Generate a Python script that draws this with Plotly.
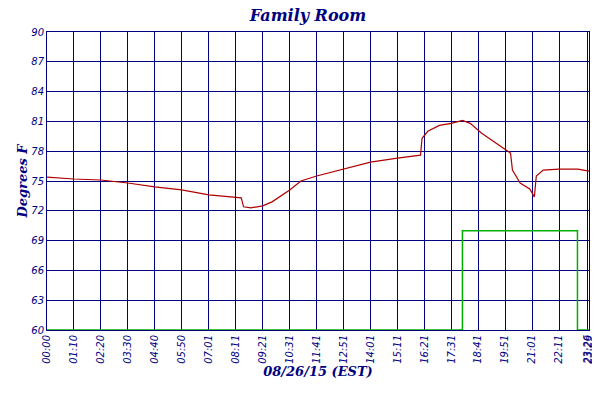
import plotly.graph_objects as go

# minutes since midnight, temperature (F)
temp_min = [0, 70, 140, 210, 280, 350, 421, 491, 505, 511, 530, 561, 585, 631, 660, 701, 771,
            841, 911, 961, 971, 975, 990, 1020, 1051, 1080, 1100, 1130, 1160, 1191, 1205,
            1210, 1230, 1255, 1267, 1272, 1290, 1331, 1380, 1409]
temp_val = [75.4, 75.2, 75.1, 74.8, 74.4, 74.1, 73.6, 73.3, 73.3, 72.4, 72.3, 72.5, 72.9, 74.1, 75.0,
            75.5, 76.2, 76.9, 77.3, 77.6, 77.6, 79.3, 80.0, 80.6, 80.8, 81.1, 80.8, 79.8, 79.0,
            78.2, 77.8, 76.1, 74.8, 74.2, 73.4, 75.5, 76.1, 76.2, 76.2, 76.0]

setback_min = [0, 1080, 1080, 1379, 1379, 1409]
setback_val = [60, 60, 70, 70, 60, 60]

tick_text = ["00:00", "01:10", "02:20", "03:30", "04:40", "05:50", "07:01", "08:11", "09:21",
             "10:31", "11:41", "12:51", "14:01", "15:11", "16:21", "17:31", "18:41", "19:51",
             "21:01", "22:11", "23:26", "23:29"]
tick_vals = [int(t[:2]) * 60 + int(t[3:]) for t in tick_text]

navy = "#000080"
font = dict(family="DejaVu Sans", size=10, color=navy, style="italic")

fig = go.Figure()
fig.add_trace(go.Scatter(x=temp_min, y=temp_val, mode="lines", name="Family Room",
                         line=dict(color="#b00000", width=1.2)))
fig.add_trace(go.Scatter(x=setback_min, y=setback_val, mode="lines", name="Setback",
                         cliponaxis=False, line=dict(color="#00b000", width=1.5)))
fig.add_trace(go.Scatter(x=[0], y=[60], yaxis="y2", showlegend=False, hoverinfo="skip",
                         mode="markers", marker=dict(opacity=0)))

yax = dict(range=[60, 90], tickvals=list(range(60, 91, 3)), showgrid=True, gridcolor=navy,
           gridwidth=1, linecolor=navy, showline=True, mirror=True, tickfont=font, ticks="",
           zeroline=False, automargin=False)
fig.update_layout(
    width=600, height=400, plot_bgcolor="white", paper_bgcolor="white",
    margin=dict(l=39, r=19, t=24, b=78, autoexpand=False),
    title=dict(text="<b>Family Room</b>", x=0.5, y=0.995, yanchor="top",
               font=dict(family="DejaVu Serif", size=16, color=navy, style="italic")),
    xaxis=dict(range=[0, 1409], tickvals=tick_vals, ticktext=tick_text, tickangle=-90,
               showgrid=True, gridcolor=navy, linecolor=navy, showline=True, mirror=True,
               tickfont=font, zeroline=False, automargin=False,
               title=dict(text="<b>08/26/15 (EST)</b>", standoff=2,
                          font=dict(family="DejaVu Serif", size=13, color=navy, style="italic"))),
    yaxis=dict(yax, title=dict(text="<b>Degrees F</b>", standoff=0,
                               font=dict(family="DejaVu Serif", size=13, color=navy, style="italic"))),
    yaxis2=dict(yax, overlaying="y", side="right", showgrid=False),
    legend=dict(orientation="h", x=0.5, xanchor="center", y=-0.2, yanchor="top",
                font=dict(family="DejaVu Serif", size=11, color=navy, style="italic")),
    showlegend=True,
)

fig.write_html("out.html")
